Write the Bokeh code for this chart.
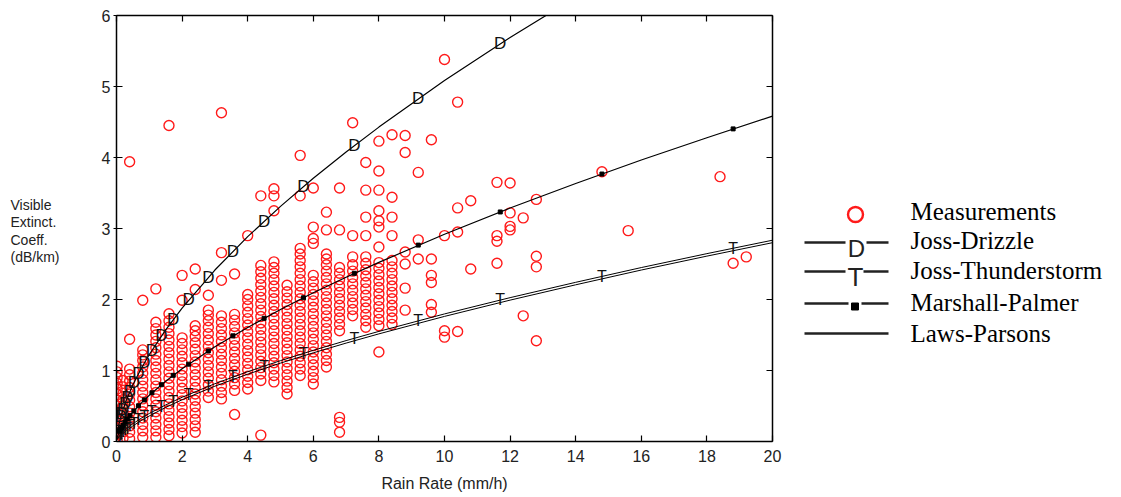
from bokeh.plotting import figure
from bokeh.layouts import row
from bokeh.models import Range1d, LinearAxis, FixedTicker, CustomJSTickFormatter
from bokeh.core.properties import value
from bokeh.embed import file_html
from bokeh.resources import INLINE

# ---------------- data ----------------
x_ticks = [0, 2, 4, 6, 8, 10, 12, 14, 16, 18, 20]
y_ticks = [0, 1, 2, 3, 4, 5, 6]

# measurements, grouped by rain-rate column
col_x = [0.02, 0.2, 0.4, 0.8, 1.2, 1.6, 2.0, 2.4, 2.8, 3.2, 3.6, 4.0, 4.4, 4.8, 5.2, 5.6, 6.0, 6.4,
         6.8, 7.2, 7.6, 8.0, 8.4, 8.8, 9.2, 9.6, 10.0, 10.4, 10.8, 11.6, 12.0, 12.4, 12.8,
         14.8, 15.6, 18.4, 18.8, 19.2]
col_y = [
    [0.02, 0.1, 0.18, 0.26, 0.34, 0.42, 0.5, 0.58, 0.66, 0.74, 0.82, 0.9, 0.98, 1.06],
    [0.05, 0.14, 0.23, 0.32, 0.41, 0.5, 0.59, 0.68, 0.77, 0.86],
    [0.04, 0.13, 0.22, 0.31, 0.4, 0.49, 0.58, 0.67, 0.76, 0.85, 0.94, 1.02, 1.44, 3.94],
    [0.06, 0.15, 0.24, 0.33, 0.42, 0.51, 0.6, 0.69, 0.78, 0.87, 0.96, 1.05, 1.14, 1.22, 1.29, 1.99],
    [0.06, 0.15, 0.24, 0.33, 0.42, 0.51, 0.6, 0.69, 0.78, 0.87, 0.96, 1.05, 1.14, 1.23, 1.32, 1.41,
     1.5, 1.59, 1.68, 2.15],
    [0.08, 0.17, 0.26, 0.35, 0.44, 0.53, 0.62, 0.71, 0.8, 0.89, 0.98, 1.07, 1.16, 1.25, 1.34, 1.43,
     1.52, 1.61, 1.7, 1.8, 4.45],
    [0.12, 0.21, 0.3, 0.39, 0.48, 0.57, 0.66, 0.75, 0.84, 0.93, 1.02, 1.11, 1.2, 1.29, 1.38, 1.46,
     1.99, 2.34],
    [0.13, 0.22, 0.31, 0.4, 0.49, 0.58, 0.67, 0.76, 0.85, 0.94, 1.03, 1.12, 1.21, 1.3, 1.39, 1.48,
     1.56, 1.63, 2.14, 2.43],
    [0.62, 0.71, 0.8, 0.89, 0.98, 1.07, 1.16, 1.25, 1.34, 1.43, 1.52, 1.61, 1.7, 1.78, 1.85, 2.06],
    [0.6, 0.69, 0.78, 0.87, 0.96, 1.05, 1.14, 1.23, 1.32, 1.41, 1.5, 1.59, 1.68, 1.77, 2.27, 2.66, 4.63],
    [0.38, 0.72, 0.81, 0.9, 0.99, 1.08, 1.17, 1.26, 1.35, 1.44, 1.53, 1.62, 1.71, 1.79, 2.36],
    [0.74, 0.83, 0.92, 1.01, 1.1, 1.19, 1.28, 1.37, 1.46, 1.55, 1.64, 1.73, 1.82, 1.91, 2.0, 2.07, 2.9],
    [0.09, 0.86, 0.95, 1.04, 1.13, 1.22, 1.31, 1.4, 1.49, 1.58, 1.67, 1.76, 1.85, 1.94, 2.03, 2.12,
     2.21, 2.3, 2.39, 2.48, 3.46],
    [0.84, 0.93, 1.02, 1.11, 1.2, 1.29, 1.38, 1.47, 1.56, 1.65, 1.74, 1.83, 1.92, 2.01, 2.1, 2.19,
     2.28, 2.37, 2.45, 2.53, 3.25, 3.46, 3.56],
    [0.67, 0.76, 0.85, 0.94, 1.03, 1.12, 1.21, 1.3, 1.39, 1.48, 1.57, 1.66, 1.75, 1.84, 1.93, 2.02,
     2.11, 2.2],
    [0.93, 1.02, 1.11, 1.2, 1.29, 1.38, 1.47, 1.56, 1.65, 1.74, 1.83, 1.92, 2.01, 2.1, 2.19, 2.28,
     2.37, 2.46, 2.55, 2.64, 2.72, 3.46, 4.03],
    [0.81, 0.9, 0.99, 1.08, 1.17, 1.26, 1.35, 1.44, 1.53, 1.62, 1.71, 1.8, 1.89, 1.98, 2.07, 2.16,
     2.25, 2.34, 2.79, 2.86, 3.02, 3.57],
    [1.05, 1.14, 1.23, 1.32, 1.41, 1.5, 1.59, 1.68, 1.77, 1.86, 1.95, 2.04, 2.13, 2.22, 2.31, 2.4,
     2.49, 2.57, 2.64, 2.98, 3.23],
    [0.13, 0.27, 0.34, 1.56, 1.65, 1.74, 1.83, 1.92, 2.01, 2.1, 2.19, 2.28, 2.37, 2.45, 2.98, 3.57],
    [1.77, 1.86, 1.95, 2.04, 2.13, 2.22, 2.31, 2.4, 2.49, 2.6, 2.9, 4.49],
    [1.61, 1.7, 1.79, 1.88, 1.97, 2.06, 2.15, 2.24, 2.33, 2.42, 2.51, 2.6, 2.9, 3.16, 3.54, 3.93],
    [1.26, 1.63, 1.72, 1.81, 1.9, 1.99, 2.08, 2.17, 2.26, 2.35, 2.44, 2.52, 2.74, 3.02, 3.11, 3.25,
     3.54, 3.81, 4.23],
    [1.65, 1.74, 1.83, 1.92, 2.01, 2.1, 2.19, 2.28, 2.37, 2.46, 2.55, 2.9, 3.16, 3.44, 4.32],
    [1.85, 2.16, 2.5, 2.67, 4.07, 4.31],
    [2.57, 2.84, 3.79],
    [1.82, 1.93, 2.24, 2.34, 2.57, 4.25],
    [1.47, 1.56, 2.9, 5.38],
    [1.55, 2.95, 3.29, 4.78],
    [2.43, 3.39],
    [2.51, 2.82, 2.9, 3.65],
    [2.98, 3.03, 3.22, 3.64],
    [1.77, 3.15],
    [1.42, 2.46, 2.61, 3.41],
    [3.8],
    [2.97],
    [3.73],
    [2.51],
    [2.6],
]
meas_x = [cx for cx, ys in zip(col_x, col_y) for _ in ys]
meas_y = [yy for ys in col_y for yy in ys]

# model curves
curve_r = [0.02, 0.05, 0.1, 0.2, 0.3, 0.5, 0.75, 1, 1.5, 2, 3, 4, 5, 6, 7, 8, 10, 12, 14, 16, 18, 20]
drizzle_r = [0.02, 0.05, 0.1, 0.2, 0.3, 0.5, 0.75, 1, 1.5, 2, 3, 4, 5, 6, 7, 8, 10, 12, 14]
drizzle_y = [0.109, 0.193, 0.295, 0.453, 0.582, 0.798, 1.025, 1.225, 1.573, 1.880, 2.415, 2.885,
             3.311, 3.707, 4.078, 4.428, 5.084, 5.690, 6.257]
mp_y = [0.051, 0.093, 0.146, 0.229, 0.298, 0.415, 0.541, 0.652, 0.849, 1.024, 1.333, 1.607, 1.858,
        2.094, 2.314, 2.523, 2.919, 3.288, 3.634, 3.964, 4.278, 4.583]
thunder_y = [0.030, 0.055, 0.087, 0.137, 0.179, 0.250, 0.327, 0.395, 0.515, 0.623, 0.814, 0.983,
             1.139, 1.284, 1.421, 1.551, 1.797, 2.026, 2.242, 2.450, 2.646, 2.835]
lp_y = [0.028, 0.045, 0.072, 0.115, 0.152, 0.220, 0.294, 0.360, 0.480, 0.588, 0.779, 0.948, 1.104,
        1.249, 1.386, 1.516, 1.762, 1.991, 2.207, 2.415, 2.611, 2.800]

# curve symbols
mark_r = [0.1, 0.13, 0.16, 0.2, 0.26, 0.33, 0.41, 0.53, 0.67, 0.85, 1.08, 1.37, 1.73, 2.2, 2.8,
          3.55, 4.5, 5.7, 7.25, 9.2, 11.7, 14.8, 18.8]
drizzle_mark_y = [0.295, 0.347, 0.395, 0.453, 0.533, 0.617, 0.706, 0.828, 0.957, 1.107, 1.285, 1.489,
                  1.719, 1.993, 2.316, 2.680, 3.102, 3.589, 4.166, 4.825, 5.601]
mp_mark_y = [0.146, 0.173, 0.198, 0.229, 0.271, 0.317, 0.365, 0.431, 0.503, 0.586, 0.686, 0.800,
             0.932, 1.089, 1.275, 1.488, 1.735, 2.024, 2.369, 2.766, 3.233, 3.767, 4.403]
thunder_mark_y = [0.087, 0.103, 0.118, 0.137, 0.163, 0.190, 0.220, 0.260, 0.304, 0.355, 0.416,
                  0.486, 0.567, 0.664, 0.778, 0.909, 1.063, 1.241, 1.454, 1.701, 1.994, 2.326, 2.724]

legend_labels = ["Measurements", "Joss-Drizzle", "Joss-Thunderstorm", "Marshall-Palmer", "Laws-Parsons"]

SANS = "Liberation Sans"
SERIF = "Liberation Serif"
H = 496
TOP = 15
BOT = 441


def side_panel(width, x0):
    f = figure(width=width, height=H, x_range=Range1d(x0, x0 + width), y_range=Range1d(BOT, TOP),
               output_backend="svg", toolbar_location=None, x_axis_location=None,
               y_axis_location=None, min_border_left=0, min_border_right=0,
               min_border_top=TOP, min_border_bottom=H - BOT, outline_line_color=None)
    f.grid.visible = False
    return f


# ---------------- left label panel ----------------
lab = side_panel(78, 0)
lab.text(x=[10], y=[196], text=["Visible\nExtinct.\nCoeff.\n(dB/km)"],
         text_font=value(SANS), text_font_size="14px", text_align="left",
         text_baseline="top", text_line_height=1.1, text_color="#222222")

# ---------------- main plot ----------------
p = figure(width=704, height=H, x_range=Range1d(0, 20), y_range=Range1d(0, 6),
           output_backend="svg", toolbar_location=None,
           min_border_left=38, min_border_right=10, min_border_top=TOP, min_border_bottom=H - BOT,
           x_axis_label="Rain Rate (mm/h)", outline_line_color=None)
p.grid.visible = False

p.xaxis.ticker = FixedTicker(ticks=x_ticks)
p.yaxis.ticker = FixedTicker(ticks=y_ticks)
for ax in (p.xaxis[0], p.yaxis[0]):
    ax.axis_line_width = 1.5
    ax.axis_line_color = "black"
    ax.major_tick_line_color = "black"
    ax.major_tick_line_width = 1.2
    ax.major_tick_in = 6
    ax.minor_tick_line_color = None
    ax.major_label_text_font = SANS
    ax.major_label_text_font_size = "16px"
    ax.major_label_text_color = "#222222"
p.xaxis.major_tick_out = 0
p.xaxis.major_label_standoff = 8
p.yaxis.major_tick_out = 3
p.yaxis.major_label_standoff = 3
p.xaxis.axis_label_text_font = SANS
p.xaxis.axis_label_text_font_size = "16px"
p.xaxis.axis_label_text_font_style = "normal"
p.xaxis.axis_label_text_color = "#222222"
p.xaxis.axis_label_standoff = 10

blank = CustomJSTickFormatter(code="return ''")
for loc, ticks in (("above", x_ticks), ("right", y_ticks)):
    ax = LinearAxis(ticker=FixedTicker(ticks=ticks), formatter=blank,
                    axis_line_width=1.5, axis_line_color="black",
                    major_tick_line_color="black", major_tick_line_width=1.2,
                    major_tick_in=6, major_tick_out=0, minor_tick_line_color=None,
                    major_label_text_font_size="0px", major_label_standoff=0)
    p.add_layout(ax, loc)

# measurements
p.scatter(meas_x, meas_y, marker="circle", size=10, fill_color=None,
          line_color="#ff1a1a", line_width=1.4)

# curves
p.line(drizzle_r, drizzle_y, line_color="black", line_width=1.2)
p.line(curve_r, mp_y, line_color="black", line_width=1.2)
p.line(curve_r, thunder_y, line_color="black", line_width=1.0)
p.line(curve_r, lp_y, line_color="black", line_width=1.0)

p.text(mark_r[:len(drizzle_mark_y)], drizzle_mark_y, text=["D"] * len(drizzle_mark_y),
       text_font=value(SANS), text_font_size="17px", text_align="center",
       text_baseline="middle", text_color="#111111")
p.text(mark_r, thunder_mark_y, text=["T"] * len(thunder_mark_y),
       text_font=value(SANS), text_font_size="16px", text_align="center",
       text_baseline="middle", text_color="#111111")
p.scatter(mark_r, mp_mark_y, marker="square", size=4, fill_color="black", line_color="black")

# ---------------- legend panel ----------------
leg = side_panel(331, 782)

leg.scatter([855], [214], marker="circle", size=15, fill_color=None,
            line_color="#ff1a1a", line_width=2.4)
leg.segment(x0=[804, 866, 804, 863, 804, 861, 804], y0=[242, 242, 271, 271, 303, 303, 333],
            x1=[845, 888, 845, 888, 848, 888, 888], y1=[242, 242, 271, 271, 303, 303, 333],
            line_color="#222222", line_width=2.5)
leg.text([856], [248], text=["D"], text_font=value(SANS), text_font_size="24px",
         text_align="center", text_baseline="middle", text_color="#222222")
leg.text([855], [276], text=["T"], text_font=value(SANS), text_font_size="26px",
         text_align="center", text_baseline="middle", text_color="#222222")
leg.scatter([854.5], [306], marker="square", size=7, fill_color="black", line_color="black")
leg.text([910] * 5, [211, 240, 270, 302, 333], text=legend_labels,
         text_font=value(SERIF), text_font_size="25px", text_align="left",
         text_baseline="middle", text_color="black")

layout = row(lab, p, leg)
open("out.html", "w").write(file_html(layout, INLINE))
